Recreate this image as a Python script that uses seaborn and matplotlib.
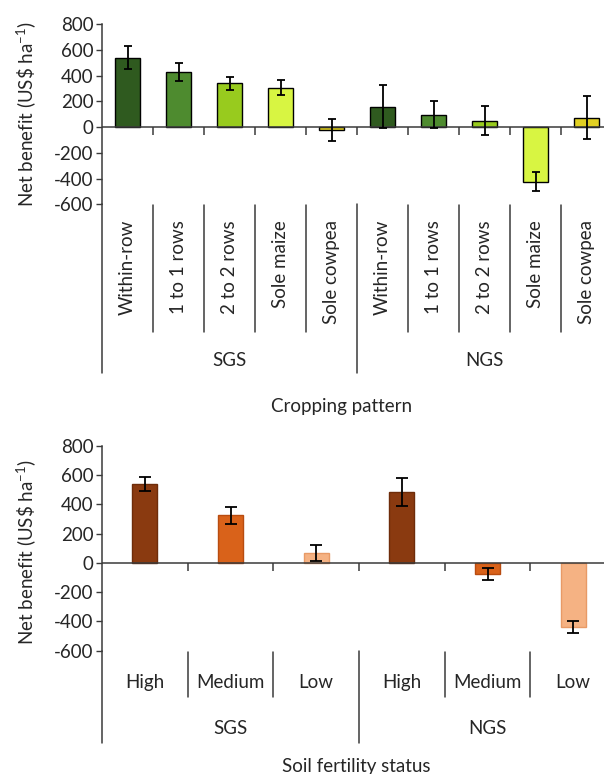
import matplotlib as mpl
import matplotlib.pyplot as plt
from matplotlib.transforms import blended_transform_factory
import pandas as pd
import seaborn as sns

# data: top panel (cropping pattern)
zones = ['SGS', 'NGS']
patterns = ['Within-row', '1 to 1 rows', '2 to 2 rows', 'Sole maize', 'Sole cowpea']
pattern_values = [540, 430, 340, 305, -25, 160, 95, 50, -425, 75]
pattern_errors = [90, 68, 50, 58, 85, 165, 105, 112, 75, 168]
pattern_colors = ['#2F5A1F', '#4E8B2F', '#98CB1E', '#D8F542', '#E2D123']

# data: bottom panel (soil fertility)
fertility = ['High', 'Medium', 'Low']
fertility_values = [540, 325, 68, 485, -75, -440]
fertility_errors = [48, 58, 53, 95, 40, 40]
fertility_colors = ['#8A3A10', '#D9621A', '#F5B283']
fertility_edges = ['#6E2C0A', '#B84C10', '#E89A66']

yticks = [800, 600, 400, 200, 0, -200, -400, -600]

sns.set_style('white')
plt.rcParams['font.family'] = ['Lato', 'DejaVu Sans']
plt.rcParams['mathtext.default'] = 'regular'
mpl.rcParams['axes.unicode_minus'] = False

LINE = '#3A3A3A'
FS = 13.5
YLAB = 'Net benefit (US\\$ ha$^{-1}$)'

fig = plt.figure(figsize=(6.04, 7.74), dpi=100)
ax1 = fig.add_axes([102 / 604, 1 - 204.3 / 774, 510 / 604, 180 / 774])
ax2 = fig.add_axes([102 / 604, 1 - 650.7 / 774, 514 / 604, 204.7 / 774])


def draw_panel(ax, cats, values, errors, colors, width, edges, capsize, tick_len):
    keys = [f'{z}|{c}' for z in zones for c in cats]
    df = pd.DataFrame({'key': keys, 'value': values})
    pal = dict(zip(keys, colors * 2))
    sns.barplot(data=df, x='key', y='value', hue='key', palette=pal, order=keys,
                hue_order=keys, legend=False, width=width, errorbar=None,
                saturation=1, ax=ax)
    for i, p in enumerate(ax.patches):
        p.set_edgecolor(edges[i % len(edges)] if isinstance(edges, list) else edges)
        p.set_linewidth(1.0)
    ax.errorbar(range(len(keys)), values, yerr=errors, fmt='none', ecolor='black',
                elinewidth=1.3, capsize=capsize, capthick=1.3, zorder=5)

    n = len(keys)
    ax.set_xlim(-0.5, n - 0.5)
    ax.set_ylim(-600, 800)
    ax.set_yticks(yticks)
    ax.set_yticklabels([str(v) for v in yticks], fontsize=FS)
    ax.tick_params(axis='y', direction='out', length=4, width=1, color=LINE, left=True, pad=2)
    ax.set_xticks([])
    ax.set_xlabel('')
    for s in ['top', 'right', 'bottom']:
        ax.spines[s].set_visible(False)
    ax.spines['left'].set_color(LINE)
    ax.spines['left'].set_linewidth(1.1)
    ax.axhline(0, color=LINE, lw=1.1, zorder=4)
    ax.vlines([i + 0.5 for i in range(n - 1)], 0, -tick_len, color=LINE, lw=1.1, zorder=4)
    ax.set_ylabel(YLAB, fontsize=FS)
    return keys


# top panel
draw_panel(ax1, patterns, pattern_values, pattern_errors, pattern_colors, 0.5,
           'black', 3.2, 60)
ax1.yaxis.set_label_coords(-0.125, 0.5)
tr1 = blended_transform_factory(ax1.transData, ax1.transAxes)
for i in range(10):
    ax1.text(i, -0.087, patterns[i % 5], rotation=90, ha='center', va='top',
             fontsize=FS, transform=tr1)
for b in [0.5, 1.5, 2.5, 3.5, 5.5, 6.5, 7.5, 8.5]:
    ax1.plot([b, b], [-0.004, -0.709], color=LINE, lw=1.1, transform=tr1, clip_on=False)
for b in [-0.5, 4.5]:
    ax1.plot([b, b], [0, -0.937], color=LINE, lw=1.1, transform=tr1, clip_on=False)
ax1.text(2, -0.865, 'SGS', ha='center', va='center', fontsize=FS, transform=tr1)
ax1.text(7, -0.865, 'NGS', ha='center', va='center', fontsize=FS, transform=tr1)
ax1.text(0.469, -1.126, 'Cropping pattern', ha='center', va='center', fontsize=FS,
         transform=ax1.transAxes)

# bottom panel
draw_panel(ax2, fertility, fertility_values, fertility_errors, fertility_colors, 0.29,
           fertility_edges, 4.2, 55)
ax2.yaxis.set_label_coords(-0.124, 0.48)
tr2 = blended_transform_factory(ax2.transData, ax2.transAxes)
for i in range(6):
    ax2.text(i, -0.153, fertility[i % 3], ha='center', va='center', fontsize=FS,
             transform=tr2)
for b in [0.5, 1.5, 3.5, 4.5]:
    ax2.plot([b, b], [-0.006, -0.226], color=LINE, lw=1.1, transform=tr2, clip_on=False)
for b in [-0.5, 2.5]:
    ax2.plot([b, b], [0, -0.451], color=LINE, lw=1.1, transform=tr2, clip_on=False)
ax2.text(1, -0.382, 'SGS', ha='center', va='center', fontsize=FS, transform=tr2)
ax2.text(4, -0.382, 'NGS', ha='center', va='center', fontsize=FS, transform=tr2)
ax2.text(0.494, -0.568, 'Soil fertility status', ha='center', va='center', fontsize=FS,
         transform=ax2.transAxes)

fig.savefig('out.png', dpi=100)
